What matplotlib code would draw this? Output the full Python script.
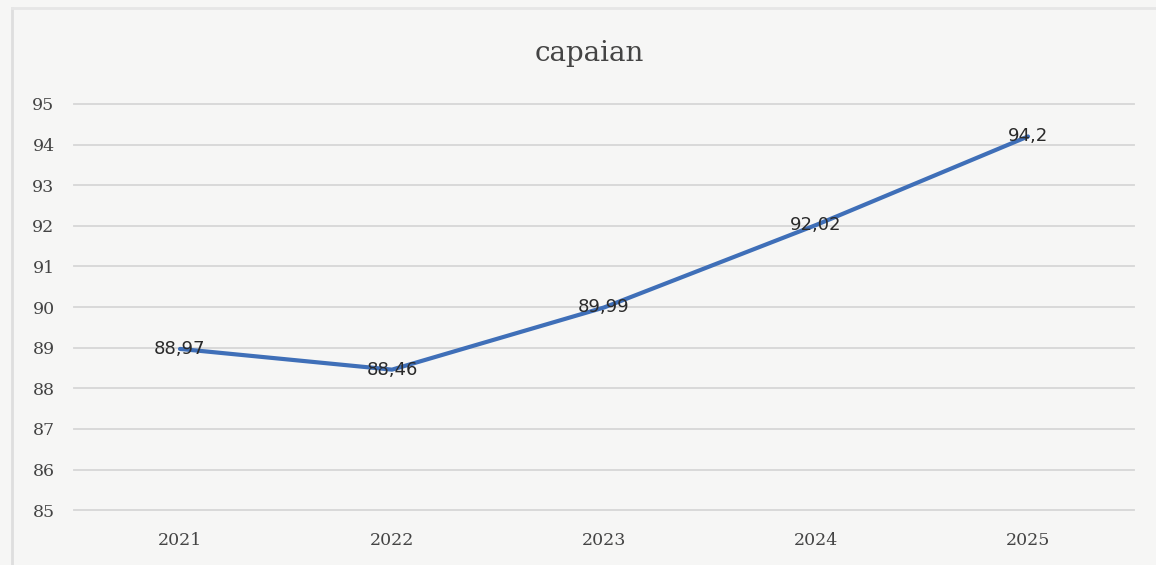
import matplotlib.pyplot as plt

years = ['2021', '2022', '2023', '2024', '2025']
capaian = [88.97, 88.46, 89.99, 92.02, 94.2]
labels = ['88,97', '88,46', '89,99', '92,02', '94,2']
y_ticks = [85, 86, 87, 88, 89, 90, 91, 92, 93, 94, 95]

fig = plt.figure(figsize=(11.56, 5.65), dpi=100, facecolor='#f6f6f5')
ax = fig.add_axes([0.064, 0.097, 0.917, 0.719], facecolor='#f6f6f5')

x = range(len(years))
ax.plot(x, capaian, color='#3f6fb8', linewidth=3, solid_capstyle='round', zorder=3)
for xi, yi, lab in zip(x, capaian, labels):
    ax.text(xi, yi, lab, ha='center', va='center', fontsize=13,
            family='DejaVu Sans', color='#2a2a2a', zorder=4)

ax.set_xlim(-0.5, len(years) - 0.5)
ax.set_ylim(85, 95)
ax.set_yticks(y_ticks)
ax.set_xticks(list(x))
ax.set_xticklabels(years)
ax.grid(axis='y', color='#d6d6d6', linewidth=1.3)
for gl in ax.get_ygridlines():
    gl.set_clip_on(False)
ax.set_axisbelow(True)
for s in ax.spines.values():
    s.set_visible(False)
ax.tick_params(length=0, labelsize=12.5, labelcolor='#444444')
ax.tick_params(axis='y', pad=14)
ax.tick_params(axis='x', pad=16)
for t in ax.get_xticklabels() + ax.get_yticklabels():
    t.set_family('DejaVu Serif')

fig.text(0.51, 0.905, 'capaian', ha='center', va='center', fontsize=20,
         family='DejaVu Serif', color='#444444')

# faint frame of the pasted chart
fig.add_artist(plt.Line2D([0.01, 0.01], [0.0, 0.985], color='#dedede', linewidth=2, transform=fig.transFigure))
fig.add_artist(plt.Line2D([0.01, 1.0], [0.985, 0.985], color='#e6e6e6', linewidth=2, transform=fig.transFigure))

fig.savefig('out.png', dpi=100, facecolor=fig.get_facecolor())
